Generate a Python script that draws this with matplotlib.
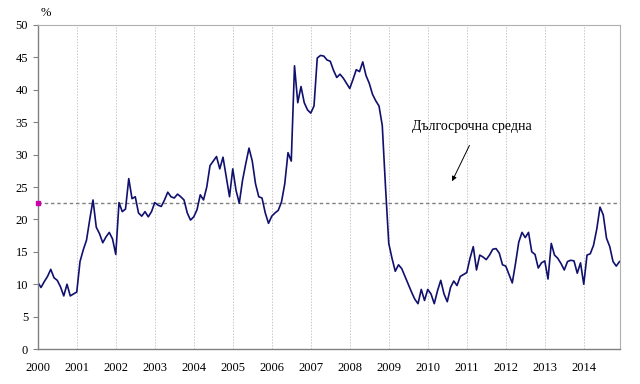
import numpy as np
import matplotlib
matplotlib.use('Agg')
import matplotlib.pyplot as plt

# monthly values, Jan 2000 .. Dec 2014 (%)
y2000 = [10.3, 9.5, 10.4, 11.2, 12.3, 11.0, 10.6, 9.6, 8.2, 10.0, 8.2, 8.5]
y2001 = [8.8, 13.5, 15.3, 16.8, 20.0, 23.0, 18.8, 17.8, 16.4, 17.3, 18.0, 17.0]
y2002 = [14.6, 22.6, 21.2, 21.6, 26.3, 23.2, 23.5, 21.0, 20.5, 21.2, 20.4, 21.2]
y2003 = [22.6, 22.2, 22.0, 23.0, 24.2, 23.5, 23.3, 23.9, 23.5, 23.0, 21.0, 19.9]
y2004 = [20.4, 21.5, 23.8, 23.0, 25.0, 28.3, 29.0, 29.7, 27.8, 29.6, 26.5, 23.5]
y2005 = [27.8, 24.5, 22.5, 26.0, 28.6, 31.0, 29.0, 25.5, 23.5, 23.3, 21.0, 19.4]
y2006 = [20.5, 21.0, 21.4, 22.7, 25.5, 30.3, 29.0, 43.7, 38.0, 40.5, 38.0, 36.9]
y2007 = [36.4, 37.5, 44.9, 45.3, 45.2, 44.6, 44.4, 43.0, 41.9, 42.4, 41.8, 41.0]
y2008 = [40.2, 41.6, 43.1, 42.8, 44.3, 42.2, 41.0, 39.3, 38.3, 37.5, 34.5, 25.0]
y2009 = [16.3, 14.0, 12.0, 13.0, 12.4, 11.2, 10.0, 8.8, 7.7, 7.0, 9.2, 7.5]
y2010 = [9.2, 8.5, 7.0, 9.0, 10.6, 8.5, 7.3, 9.5, 10.5, 9.8, 11.2, 11.5]
y2011 = [11.8, 14.0, 15.8, 12.2, 14.5, 14.2, 13.8, 14.5, 15.4, 15.5, 14.8, 13.0]
y2012 = [12.8, 11.5, 10.2, 13.2, 16.5, 18.0, 17.2, 18.0, 15.0, 14.6, 12.5, 13.3]
y2013 = [13.6, 10.8, 16.3, 14.5, 14.0, 13.2, 12.2, 13.5, 13.7, 13.6, 11.7, 13.3]
y2014 = [10.0, 14.5, 14.7, 16.0, 18.5, 21.9, 20.7, 17.1, 15.8, 13.5, 12.8, 13.5]

years = list(range(2000, 2015))
long_term_avg = 22.5
label_avg = 'Дългосрочна средна'

values = np.array(y2000 + y2001 + y2002 + y2003 + y2004 + y2005 + y2006 + y2007
                  + y2008 + y2009 + y2010 + y2011 + y2012 + y2013 + y2014)
x = np.arange(len(values))

plt.rcParams['font.family'] = ['Liberation Serif', 'DejaVu Serif']

fig = plt.figure(figsize=(6.4, 3.84), dpi=100)
ax = fig.add_axes([0.059, 0.091, 0.910, 0.844])

# year grid
for i in range(1, len(years)):
    ax.axvline(i * 12, color='#c8c8c8', lw=0.7, ls=(0, (1.5, 1.5)), zorder=0)

ax.axhline(long_term_avg, color='#808080', lw=1.0, ls=(0, (2.5, 2)), zorder=1)
ax.plot([0], [long_term_avg], marker='s', ms=2.5, color='#cc00aa', clip_on=False, zorder=3)
ax.plot(x, values, color='#10106e', lw=1.2, zorder=2)

ax.set_xlim(0, 179.2)
ax.set_ylim(0, 50)
ax.set_yticks(np.arange(0, 51, 5))
ax.set_xticks([i * 12 for i in range(len(years))])
ax.set_xticklabels([str(y) for y in years])
ax.tick_params(axis='both', labelsize=9, colors='black', length=3.5, width=0.8, color='#808080')
ax.tick_params(axis='x', length=0, pad=9)

for s in ['left', 'bottom']:
    ax.spines[s].set_color('#808080')
    ax.spines[s].set_linewidth(1.0)
for s in ['top', 'right']:
    ax.spines[s].set_color('#b0b0b0')
    ax.spines[s].set_linewidth(0.8)

fig.text(46 / 640, 1 - 13 / 384, '%', ha='center', va='center', fontsize=9)

ax.text(133.7, 34.4, label_avg, ha='center', va='center', fontsize=10)
ax.annotate('', xy=(127.1, 25.5), xytext=(133.2, 31.8),
            arrowprops=dict(arrowstyle='-|>', color='black', lw=0.7, mutation_scale=7))

fig.savefig('out.png', dpi=100)
